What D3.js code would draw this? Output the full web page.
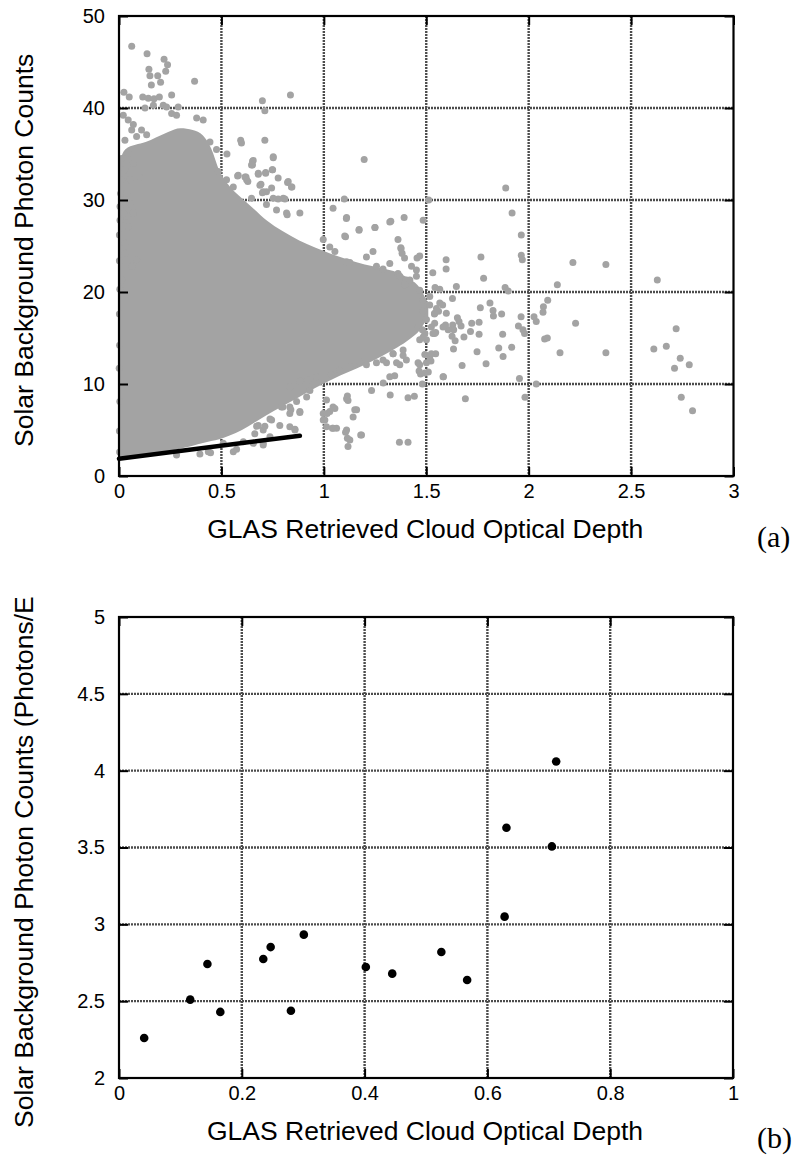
<!DOCTYPE html>
<html><head><meta charset="utf-8">
<script src="https://cdn.jsdelivr.net/npm/d3@7"></script>
<style>body{margin:0;background:#fff}svg{display:block}</style>
</head><body>
<svg id="c" width="795" height="1162"></svg>
<script>
// ---------- Panel (a) data ----------
const aXTicks = [0, 0.5, 1, 1.5, 2, 2.5, 3];
const aXTickLabels = ["0", "0.5", "1", "1.5", "2", "2.5", "3"];
const aYTicks = [0, 10, 20, 30, 40, 50];
const aYTickLabels = ["0", "10", "20", "30", "40", "50"];

// envelope of the solid (saturated) point cloud
const denseX =    [0, 0.03, 0.08, 0.13, 0.18, 0.24, 0.30, 0.36, 0.41, 0.45, 0.49, 0.54, 0.60, 0.66, 0.72, 0.80, 0.88, 0.96, 1.04, 1.12, 1.20, 1.28, 1.36, 1.42, 1.47, 1.51];
const denseHigh = [34, 35.5, 36, 36.3, 36.8, 37.4, 37.8, 37.6, 37, 35.6, 33.2, 31.5, 30.2, 29, 27.8, 26.6, 25.6, 24.8, 24.1, 23.5, 23, 22.6, 22.1, 21.4, 20.4, 18.6];
const denseLow =  [1.8, 1.9, 2.1, 2.3, 2.5, 2.7, 3.0, 3.3, 3.6, 3.8, 4.0, 4.4, 5.0, 5.8, 6.6, 7.6, 8.6, 9.6, 10.5, 11.3, 12.1, 13.0, 14.0, 14.9, 15.9, 17.4];

// individually visible points (outliers and fringe)
const scatterPts = [
 [0.062,46.7],[0.137,45.9],[0.146,44.2],[0.151,43.5],[0.189,43.5],[0.22,45.3],[0.237,44.7],[0.228,44.0],[0.203,42.8],[0.158,42.5],[0.369,42.9],
 [0.024,41.7],[0.05,41.2],[0.116,41.2],[0.143,41.05],[0.171,41.0],[0.197,41.2],[0.257,41.4],[0.70,40.8],[0.712,39.7],[0.837,41.4],[1.197,34.4],
 [0.712,36.5],[0.594,36.5],[0.652,34.2],[0.652,33.8],[0.527,35.0],[0.753,34.6],[0.579,32.6],[0.62,32.5],[0.629,32.0],[0.716,33.0],[0.68,32.8],
 [0.748,33.3],[0.823,31.9],[0.844,31.4],[0.693,31.7],[0.70,30.8],[0.72,30.9],[0.777,30.1],[0.81,30.1],[0.883,28.6],[0.821,28.4],[1.045,29.1],
 [1.11,28.0],[1.172,26.7],[1.25,27.0],[1.10,30.1],[1.106,26.0],[0.997,25.7],[1.327,27.7],
 [1.888,31.3],[1.919,28.6],[1.964,26.2],[1.512,30.0],[1.392,28.1],[1.485,27.8],[1.376,24.8],
 [1.964,24.0],[1.969,23.5],[2.216,23.2],[2.377,23.0],[2.14,20.8],[2.628,21.3],[1.767,23.8],[1.78,21.5],[1.597,23.5],[1.597,22.5],[1.885,20.5],
 [1.9,20.1],[2.093,19.1],[2.072,18.4],[2.07,17.8],[2.026,17.3],[2.037,16.8],[2.229,16.6],[1.963,17.3],[1.95,16.3],[1.972,15.9],[1.98,15.5],
 [2.078,14.9],[2.091,15.0],[2.153,13.4],[2.377,13.4],[2.72,16.0],[2.611,13.8],[2.672,14.1],[2.74,12.8],[2.784,12.1],[2.712,11.7],[2.745,8.55],
 [2.80,7.1],[1.982,8.55],[1.955,10.6],[2.037,10.0],[1.691,8.4],[1.369,3.66],[1.411,3.66],[1.324,8.8],[1.411,8.5],[1.442,8.66],[1.584,10.8],
 [1.675,12.0],[1.792,12.2],[1.748,13.5],[1.875,13.0],[1.854,13.9],[1.917,14.0],[1.873,15.4],[1.758,15.4],[1.758,16.7],[1.722,16.6],[1.716,15.7],
 [1.764,18.3],[1.811,18.8],[1.826,18.0],[1.828,17.4],[1.868,17.6],[1.684,15.1],[1.633,13.8],[1.641,14.7],[1.546,13.3],[1.523,12.5],[1.51,11.3],
 [1.481,10.0],[1.628,19.3],[1.647,20.6],[1.543,20.5],[1.566,20.3],[1.532,22.1],[1.468,23.9],[1.455,23.7],[1.377,24.7],[1.382,24.2],[1.394,23.7],
 [1.652,17.2],[1.66,16.8],[1.67,16.3],[1.629,16.4],[1.634,15.9],[1.626,15.2],[1.607,15.9],[1.533,15.5],[1.546,15.6],[1.594,16.4],[1.566,18.8],
 [1.58,18.6],[1.54,17.6],[1.56,17.9],[1.493,13.2],[1.465,11.4],[1.472,11.1],
 [1.29,10.1],[1.346,10.9],[1.338,13.3],[1.387,13.1],[1.306,12.3],[1.371,12.1],[1.468,14.8],[1.493,15.5],[1.525,16.2],[1.541,17.7],[1.517,19.5],
 [1.452,21.7],[1.403,21.3],[1.428,22.8],[1.362,22.0],[1.322,23.1],[1.452,22.4],[1.485,17.9],[1.501,17.0],[1.46,16.2],[1.481,15.9],[1.501,14.8],
 [1.517,13.0],[1.501,12.3],[1.46,12.3],
 [0.021,39.2],[0.045,38.7],[0.07,38.2],[0.029,36.5],[0.013,34.5],[0.013,32.2],[0.008,30.7],[0.005,29.3],[0.005,27.8],[0.002,26.2],[0.037,28.2],
 [0.029,25.3],[0.062,37.6],[0.086,36.9],[0.11,37.6],[0.135,37.1],[0.045,35.1],[0.07,34.0],[0.102,32.5],[0.054,32.2],[0.029,33.3],[0.037,30.7],
 [0.054,29.6],[0.024,28.6],[0.07,28.6],[0.045,27.1],[0.029,24.2],[0.062,22.8],[0.013,21.3],[0.086,23.5],
 [0.127,40.0],[0.168,40.3],[0.216,40.3],[0.232,40.1],[0.289,40.1],[0.257,39.4],[0.281,39.2],
 [0.379,38.9],[0.411,38.7],[0.444,36.3],[0.476,35.5],[0.484,33.1],[0.525,32.2],[0.558,31.4],[0.598,36.2],[0.655,34.3],[0.647,33.8],[0.582,32.7],
 [0.615,32.5],[0.623,32.2],[0.68,32.9],[0.716,32.9],[0.753,34.7],[0.75,33.3],[0.777,32.4],[0.826,32.0],[0.842,31.4],[0.688,31.6],[0.704,30.9],
 [0.745,31.3],[0.647,30.2],[0.72,29.5],[0.769,28.9],[0.818,28.6],[0.753,30.2],[0.802,30.2],[1.111,28.1],[1.172,26.8],[1.249,27.0],[1.322,27.6],
 [1.102,26.1],[1.029,24.9],[1.054,24.4],[1.111,23.3],[1.127,23.2],[1.208,23.8],[1.24,24.4],[1.257,22.8],[1.289,22.5],[1.362,25.7],
 [1.468,20.2],[1.485,19.1],[1.517,18.6],[1.55,18.2],[1.598,17.7],[1.541,16.6],[1.582,16.2],[1.485,15.1],[1.525,13.3],[1.541,15.5],[1.582,10.8],
 [1.493,11.2],[1.468,12.1],[1.403,12.6],[1.355,12.3],[1.387,13.7],[1.338,13.3],[1.289,12.6],[1.257,12.3],[1.208,12.1],[1.176,12.4],[1.127,11.9],
 [1.078,11.5],[1.037,11.0],[0.964,10.8],[0.924,10.4],[0.883,10.3],[0.834,9.7],[1.233,9.3],[1.322,10.8],[1.371,21.7],[1.42,21.3],[1.395,20.8],
 [0.436,2.64],[0.447,2.53],[0.558,2.64],[0.574,2.9],[0.704,3.37],[0.656,3.55],[0.395,2.39],[0.281,2.28],[0.859,5.0],[0.834,5.36],[0.745,6.1],
 [0.704,5.0],[0.68,5.5],[0.883,7.0],[0.834,6.8],[0.793,7.5],[0.867,8.1],[0.916,8.6],[0.932,9.3],[0.997,6.8],[1.029,7.0],[1.013,5.36],[0.997,6.1],
 [1.062,5.2],[1.045,7.5],[1.111,8.4],[1.118,3.2],[1.127,3.9],[1.111,5.0],[1.184,4.45],[1.143,6.4],[1.16,7.2],[1.045,5.2],[1.115,8.7],[1.118,8.2],
 [1.151,7.2],[1.042,5.2],[1.106,4.75],[1.115,4.1],[1.18,4.45],[1.013,8.26],[1.054,7.35],[1.016,6.8],[1.005,6.1],[0.859,5.07],[0.883,6.9],
 [0.839,7.2],[0.8,7.5],[0.737,6.2],[0.712,5.4],[0.672,5.4],[0.663,4.6],[0.704,3.55],[0.509,3.55],[0.607,3.73],[0.737,4.27],[0.785,5.5],[0.834,7.5],
 [0.003,2.6],[0.002,4.9],[0.004,8.1],[0.001,11.7],[0.003,14.2],[0.002,17.6],[0.004,20.3],[0.002,23.4]
];
const fitX = [0, 0.883];
const fitY = [1.88, 4.38];

// ---------- Panel (b) data ----------
const bXTicks = [0, 0.2, 0.4, 0.6, 0.8, 1];
const bXTickLabels = ["0", "0.2", "0.4", "0.6", "0.8", "1"];
const bYTicks = [2, 2.5, 3, 3.5, 4, 4.5, 5];
const bYTickLabels = ["2", "2.5", "3", "3.5", "4", "4.5", "5"];
const bX = [0.041, 0.116, 0.144, 0.165, 0.235, 0.247, 0.280, 0.301, 0.402, 0.445, 0.525, 0.567, 0.628, 0.631, 0.705, 0.712];
const bY = [2.26, 2.51, 2.742, 2.43, 2.774, 2.852, 2.438, 2.933, 2.722, 2.679, 2.82, 2.638, 3.05, 3.629, 3.507, 4.06];

const xLabel = "GLAS Retrieved Cloud Optical Depth";
const yLabelA = "Solar Background Photon Counts";
const yLabelB = "Solar Background Photon Counts (Photons/E";

// ---------- drawing ----------
const svg = d3.select("#c");
const FONT = "'Liberation Sans', Arial, Helvetica, sans-serif";
const SERIF = "'Liberation Serif', 'Times New Roman', serif";

function panel(o) {
  const g = svg.append("g");
  const x = d3.scaleLinear().domain(o.xDomain).range([o.left, o.right]);
  const y = d3.scaleLinear().domain(o.yDomain).range([o.bottom, o.top]);

  // grid
  const grid = g.append("g").attr("stroke", "#4c4c4c").attr("stroke-width", 2.4).attr("stroke-dasharray", "2,1");
  grid.selectAll(".gx").data(o.xTicks.slice(1, -1)).join("line")
    .attr("x1", d => x(d)).attr("x2", d => x(d)).attr("y1", o.top).attr("y2", o.bottom);
  grid.selectAll(".gy").data(o.yTicks.slice(1, -1)).join("line")
    .attr("y1", d => y(d)).attr("y2", d => y(d)).attr("x1", o.left).attr("x2", o.right);

  o.marks(g, x, y);

  // axes with inward ticks
  const T = 9;
  const ax = (axis, tr) => {
    const a = g.append("g").attr("transform", tr).call(axis);
    a.select(".domain").remove();
    a.selectAll(".tick line").attr("stroke", "#000").attr("stroke-width", 2);
    a.selectAll("text").attr("font-family", FONT).attr("font-size", 20).attr("fill", "#000");
    return a;
  };
  ax(d3.axisBottom(x).tickValues(o.xTicks).tickSizeInner(-T).tickSizeOuter(0).tickPadding(7.5)
      .tickFormat((d, i) => o.xTickLabels[i]), `translate(0,${o.bottom})`);
  ax(d3.axisTop(x).tickValues(o.xTicks).tickSizeInner(-T).tickSizeOuter(0).tickFormat(""), `translate(0,${o.top})`);
  ax(d3.axisLeft(y).tickValues(o.yTicks).tickSizeInner(-T).tickSizeOuter(0).tickPadding(14)
      .tickFormat((d, i) => o.yTickLabels[i]), `translate(${o.left},0)`);
  ax(d3.axisRight(y).tickValues(o.yTicks).tickSizeInner(-T).tickSizeOuter(0).tickFormat(""), `translate(${o.right},0)`);

  // frame
  g.append("rect").attr("x", o.left).attr("y", o.top)
    .attr("width", o.right - o.left).attr("height", o.bottom - o.top)
    .attr("fill", "none").attr("stroke", "#000").attr("stroke-width", 2.2);

  // labels
  g.append("text").attr("x", (o.left + o.right) / 2 - 1).attr("y", o.bottom + 62)
    .attr("text-anchor", "middle").attr("font-family", FONT).attr("font-size", 26.5).text(xLabel);
  g.append("text").attr("transform", `translate(33,${o.yLabelStart}) rotate(-90)`)
    .attr("text-anchor", "start").attr("font-family", FONT).attr("font-size", 26.5).text(o.yLabel);
  g.append("text").attr("x", 757).attr("y", o.tagY)
    .attr("font-family", SERIF).attr("font-size", 30).text(o.tag);
}

panel({
  left: 119, right: 733.5, top: 16, bottom: 476,
  xDomain: [0, 3], yDomain: [0, 50],
  xTicks: aXTicks, xTickLabels: aXTickLabels, yTicks: aYTicks, yTickLabels: aYTickLabels,
  yLabel: yLabelA, yLabelStart: 447, tag: "(a)", tagY: 547,
  marks: (g, x, y) => {
    const dense = denseX.map((d, i) => ({ x: d, lo: denseLow[i], hi: denseHigh[i] }));
    g.append("path").datum(dense)
      .attr("d", d3.area().x(d => x(d.x)).y0(d => y(d.lo)).y1(d => y(d.hi)).curve(d3.curveMonotoneX))
      .attr("fill", "#a3a3a3");
    g.append("g").selectAll("circle").data(scatterPts).join("circle")
      .attr("cx", d => x(d[0])).attr("cy", d => y(d[1])).attr("r", 3.5).attr("fill", "#a3a3a3");
    g.append("line").attr("x1", x(fitX[0])).attr("y1", y(fitY[0])).attr("x2", x(fitX[1])).attr("y2", y(fitY[1]))
      .attr("stroke", "#000").attr("stroke-width", 4.5).attr("stroke-linecap", "round");
  }
});

panel({
  left: 119, right: 733, top: 617, bottom: 1078,
  xDomain: [0, 1], yDomain: [2, 5],
  xTicks: bXTicks, xTickLabels: bXTickLabels, yTicks: bYTicks, yTickLabels: bYTickLabels,
  yLabel: yLabelB, yLabelStart: 1128, tag: "(b)", tagY: 1148,
  marks: (g, x, y) => {
    g.append("g").selectAll("circle").data(bX).join("circle")
      .attr("cx", d => x(d)).attr("cy", (d, i) => y(bY[i])).attr("r", 4.3).attr("fill", "#000");
  }
});
</script>
</body></html>
